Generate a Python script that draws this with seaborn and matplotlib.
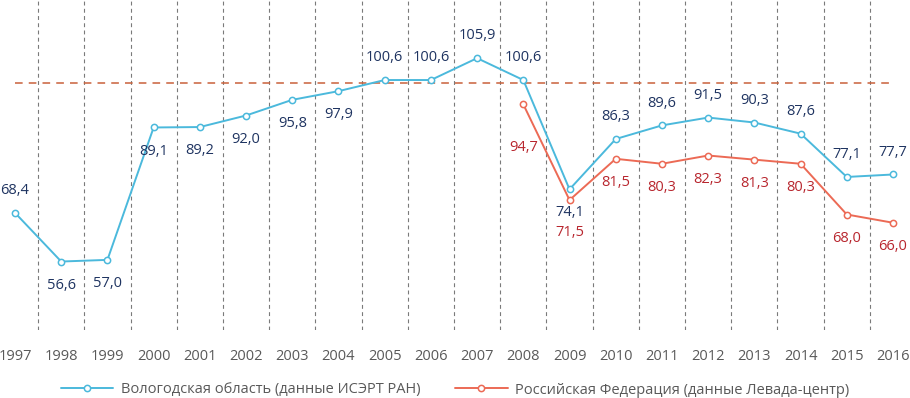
import matplotlib.pyplot as plt
import matplotlib.ticker as mticker
import numpy as np
import pandas as pd
import seaborn as sns

years = [str(y) for y in range(1997, 2017)]
vologda = [68.4, 56.6, 57.0, 89.1, 89.2, 92.0, 95.8, 97.9, 100.6, 100.6,
           105.9, 100.6, 74.1, 86.3, 89.6, 91.5, 90.3, 87.6, 77.1, 77.7]
russia = [np.nan] * 11 + [94.7, 71.5, 81.5, 80.3, 82.3, 81.3, 80.3, 68.0, 66.0]
reference_level = 100.0

name_vologda = "Вологодская область (данные ИСЭРТ РАН)"
name_russia = "Российская Федерация (данные Левада-центр)"

# label placement: 1 above the point, -1 below, -2 / -3 further below
place_vologda = [1, -1, -1, -1, -1, -1, -1, -1, 1, 1,
                 1, 1, -1, 1, 1, 1, 1, 1, 1, 1]
place_russia = [0] * 11 + [-2, -3, -1, -1, -1, -1, -1, -1, -1]

sns.set_theme(style="white")
plt.rcParams['font.family'] = ['Open Sans', 'DejaVu Sans']

df = pd.DataFrame({"pos": np.arange(len(years)), "vologda": vologda, "russia": russia})

blue = "#4BB9DC"
red = "#EC6A55"
blue_txt = "#1F3461"
red_txt = "#B8262E"
gray_txt = "#595959"

fig = plt.figure(figsize=(9.1, 3.98), dpi=100)
ax = fig.add_axes([0, 1 - 330 / 398, 1, 330 / 398])

ax.hlines(reference_level, 0, len(years) - 1, colors="#C9603A",
          linestyles=(0, (5, 4)), linewidth=1.1, zorder=1)

style = dict(marker="o", markersize=4.5, markerfacecolor="white",
             markeredgewidth=1.1, linewidth=1.4, zorder=3)
sns.lineplot(data=df, x="pos", y="vologda", ax=ax, color=blue,
             markeredgecolor=blue, label=name_vologda, **style)
sns.lineplot(data=df.dropna(), x="pos", y="russia", ax=ax, color=red,
             markeredgecolor=red, label=name_russia, **style)


def fmt(v):
    return f"{v:.1f}".replace(".", ",")


offsets = {1: 16, -1: -17, -2: -31, -3: -23}
for i, v in enumerate(vologda):
    ax.annotate(fmt(v), (i, v), xytext=(0, offsets[place_vologda[i]]),
                textcoords="offset points", ha="center", va="center",
                fontsize=10.5, color=blue_txt)
for i, v in enumerate(russia):
    if np.isnan(v):
        continue
    ax.annotate(fmt(v), (i, v), xytext=(0, offsets[place_russia[i]]),
                textcoords="offset points", ha="center", va="center",
                fontsize=10.5, color=red_txt)

ax.set_xlim(-15 / 46.21, len(years) - 1 + 17 / 46.21)
ax.set_ylim(40, 120)
ax.set_xticks(np.arange(len(years)))
ax.set_xticklabels(years)
ax.xaxis.set_minor_locator(mticker.FixedLocator(np.arange(len(years) - 1) + 0.5))
ax.grid(which="minor", axis="x", color="#7a7a7a", linestyle=(0, (3.5, 3)), linewidth=0.8)
ax.set_yticks([])
ax.tick_params(axis="x", which="both", length=0, pad=14, labelsize=10.5, labelcolor=gray_txt)
ax.set_xlabel("")
ax.set_ylabel("")
for s in ax.spines.values():
    s.set_visible(False)

ax.get_legend().remove()
handles, labels = ax.get_legend_handles_labels()
fig.legend(handles, labels, loc="center", bbox_to_anchor=(0.5, 8 / 398),
           ncol=2, frameon=False, fontsize=10.5, labelcolor=gray_txt,
           handlelength=3.6, columnspacing=2.4, handletextpad=0.5)

fig.savefig("out.png", dpi=100)
